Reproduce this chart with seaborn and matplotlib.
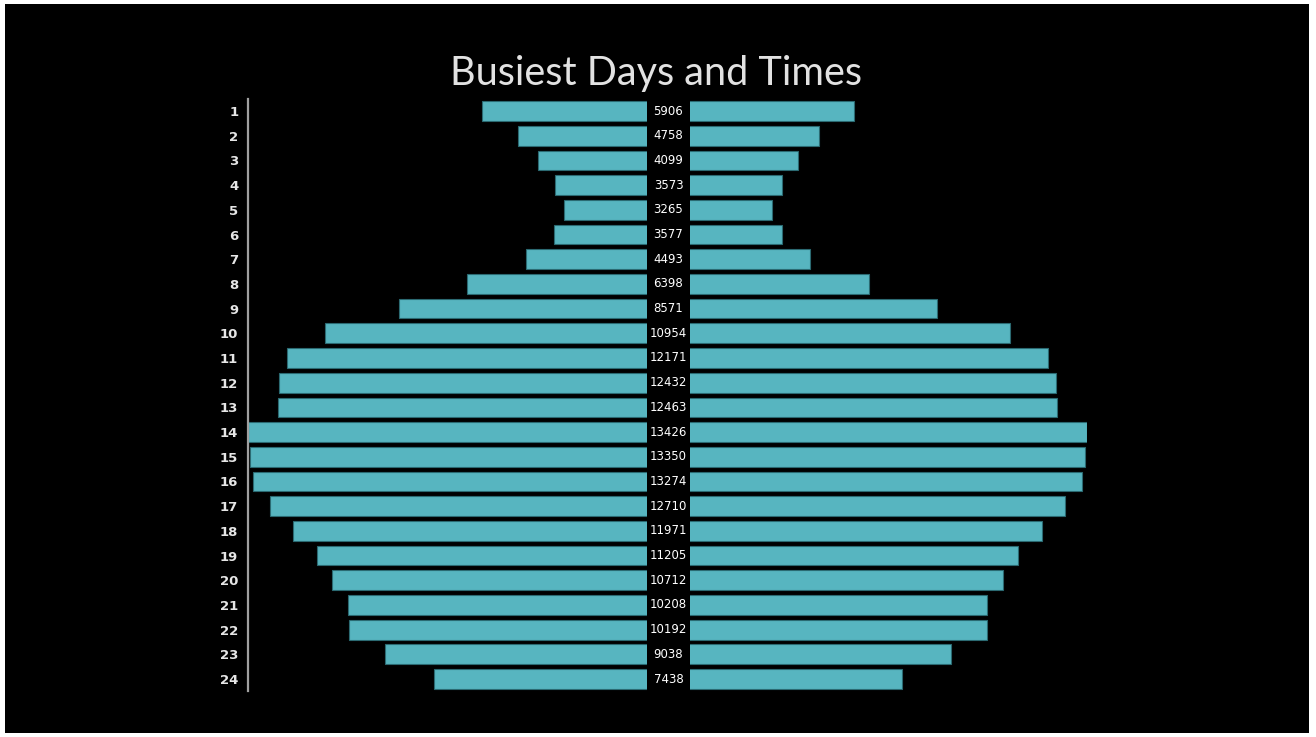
import matplotlib
matplotlib.use("Agg")
import matplotlib.pyplot as plt
import matplotlib.transforms as mtransforms
from matplotlib.patches import Rectangle
import seaborn as sns
import pandas as pd

# data
hours = [str(h) for h in range(1, 25)]
counts = [5906, 4758, 4099, 3573, 3265, 3577, 4493, 6398, 8571, 10954, 12171, 12432,
          12463, 13426, 13350, 13274, 12710, 11971, 11205, 10712, 10208, 10192, 9038, 7438]
title = "Busiest Days and Times"

df = pd.DataFrame({"hour": hours, "count": counts})

bar_color = "#57b5c0"
edge_color = "#2b6a72"
x_start = 600  # bars start here on the value axis

sns.set_theme(style="dark")
plt.rcParams["font.family"] = ["DejaVu Sans"]

W, H = 1316, 737
fig = plt.figure(figsize=(W / 100, H / 100), dpi=100, facecolor="white")
bg = Rectangle((5 / W, 4 / H), 1304 / W, 729 / H, transform=fig.transFigure,
               facecolor="black", edgecolor="none")
bg.set_zorder(-10)
fig.add_artist(bg)

ax_l = fig.add_axes([248 / W, 0.0619, 399 / W, 0.8042])
ax_r = fig.add_axes([690 / W, 0.0619, 397 / W, 0.8042])

for ax in (ax_l, ax_r):
    sns.barplot(data=df, x="count", y="hour", orient="h", ax=ax, color=bar_color,
                edgecolor=edge_color, linewidth=0.8, width=0.8, saturation=1)
    ax.set_facecolor("none")
    ax.set_xlabel("")
    ax.set_ylabel("")
    ax.set_xticks([])
    ax.grid(False)
    for s in ax.spines.values():
        s.set_visible(False)
    ax.set_ylim(23.5, -0.5)

ax_l.set_xlim(max(counts), x_start)
ax_r.set_xlim(x_start, max(counts))
ax_r.set_yticks([])

ax_l.spines["left"].set_visible(True)
ax_l.spines["left"].set_color("#a0a0a0")
ax_l.spines["left"].set_linewidth(1.6)
ax_l.tick_params(axis="y", length=0, pad=7, labelsize=9.5, labelcolor="#e6e6e6")
for lab in ax_l.get_yticklabels():
    lab.set_fontweight("bold")

# value labels in the middle column
trans = mtransforms.blended_transform_factory(fig.transFigure, ax_r.transData)
for i, v in enumerate(counts):
    ax_r.text(668.5 / W, i, str(v), transform=trans, ha="center", va="center",
              color="white", fontsize=8.5,
              family=["Liberation Sans Narrow", "DejaVu Sans"], clip_on=False)

fig.text(656 / W, (H - 85) / H, title, ha="center", va="baseline", color="#e2e2e2",
         fontsize=28.5, fontweight="normal", family=["Lato", "DejaVu Sans"])

fig.savefig("out.png", dpi=100, facecolor=fig.get_facecolor())
